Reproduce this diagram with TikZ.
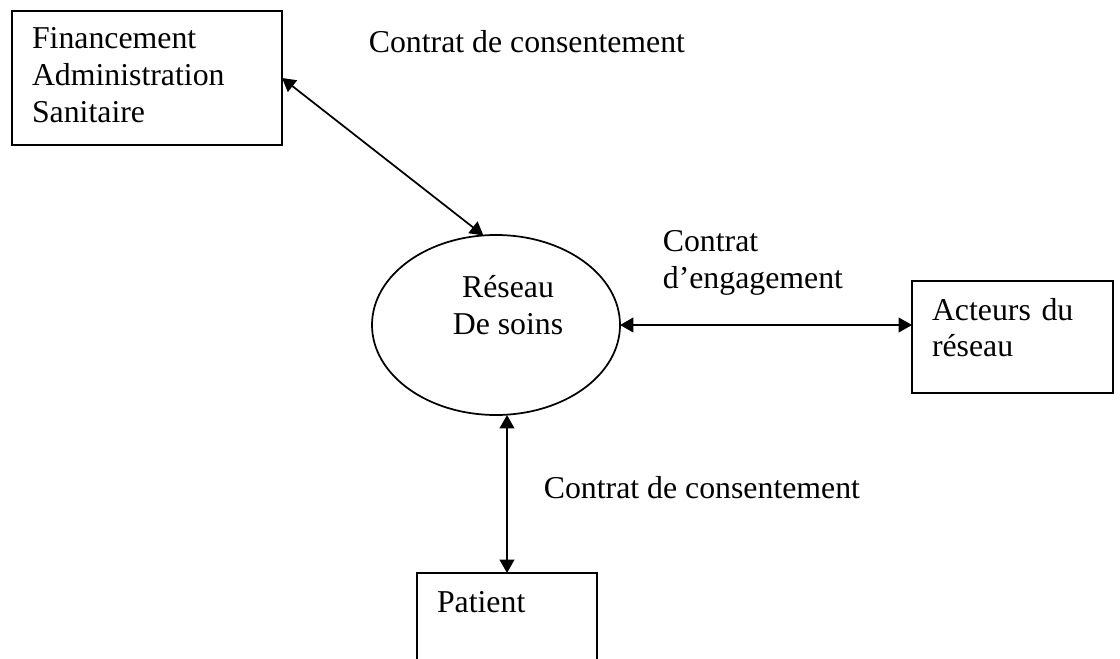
\documentclass[tikz,border=0pt]{standalone}
\usepackage{fontspec}
\setmainfont{Liberation Serif}
\usetikzlibrary{arrows.meta,shapes.geometric}

\begin{document}
\begin{tikzpicture}[x=0.75pt,y=-0.75pt,line width=1.3pt,
  font=\fontsize{23.85pt}{27.75pt}\selectfont,
  box node/.style={rectangle,draw,anchor=north west,align=left,inner xsep=15pt,inner ysep=0pt,outer sep=0pt},
  ell node/.style={ellipse,draw,inner sep=0pt,outer sep=0pt,minimum width=186pt,minimum height=135pt},
  text node/.style={inner sep=0pt,align=left}]

  \useasboundingbox (0,0) rectangle (1120,659);

  \node[box node,text width=172.5pt,text height=28.5pt,text depth=72pt] (fin) at (12,11) {Financement\\Administration\\Sanitaire};
  \node[ell node,label={[text node,align=center,xshift=9pt,yshift=14.6pt]center:Réseau\\De soins}] (res) at (496,325) {};
  \node[box node,text width=120.75pt,text height=29.25pt,text depth=54.75pt] (act) at (912,281) {Acteurs du\\réseau};
  \node[box node,text width=105pt,text height=29.25pt,text depth=80pt] (pat) at (417,573) {Patient};

  % textes des contrats
  \node[text node,anchor=base west] (c1) at (368,53) {Contrat de consentement};
  \node[text node,anchor=north west] (c2) at (662,230) {Contrat\\d’engagement};
  \node[text node,anchor=base west] (c3) at (543,498) {Contrat de consentement};

  \path[<->,>={Triangle[length=10pt,width=11pt]}]
    (fin.east) edge (res.98)
    (res.east) edge (res.east -| act.west)
    (res.south -| pat.north) edge (pat.north)
    ;

\end{tikzpicture}
\end{document}
